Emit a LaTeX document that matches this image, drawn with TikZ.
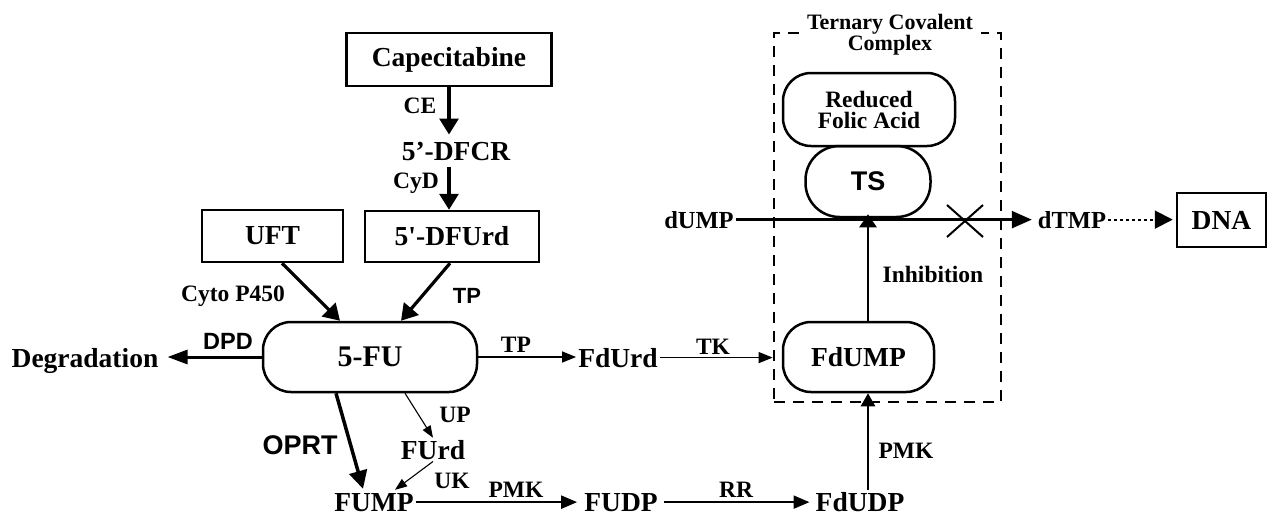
\documentclass[tikz,border=0pt]{standalone}
\usepackage{fontspec}
\setmainfont{Liberation Serif}
\newfontfamily\arialb{Liberation Sans}
\usetikzlibrary{arrows.meta,calc}
\newcommand\fsize[1]{\fontsize{#1}{#1}\selectfont}

\begin{document}
\begin{tikzpicture}[x=1pt,y=-1pt,
  bx/.style={draw, line width=2.5pt, inner sep=0pt, font=\bfseries\fsize{27.5}},
  rbx/.style={bx, rounded corners=28pt},
  txt/.style={inner sep=2pt, font=\bfseries\fsize{27.5}, anchor=base},
  lab/.style={inner sep=0pt, font=\bfseries\fsize{23.5}, anchor=base},
  slab/.style={inner sep=0pt, font=\arialb\bfseries\fsize{#1}, anchor=base},
  cplx/.style={draw, line width=2.7pt, dash pattern=on 11pt off 8pt, inner sep=0pt},
  heavy/.style={line width=3.2pt, -{Triangle[length=16pt,width=19pt]}},
  medium/.style={line width=2.2pt, -{Triangle[length=16pt,width=13pt]}},
  light/.style={line width=1.4pt, -{Triangle[length=14pt,width=11pt]}},
  thinarrow/.style={line width=1.1pt, -{Triangle[length=12pt,width=9pt]}}]
\useasboundingbox (0,0) rectangle (1270,515);

% ternary covalent complex frame and its title
\node[cplx, minimum width=227pt, minimum height=369pt] (cplx) at (887.5,217.5) {};
\node[fill=white, inner xsep=8pt, inner ysep=1pt, align=center,
      font=\bfseries\fontsize{22}{20}\selectfont] (title) at (890,35) {Ternary Covalent\\Complex};

% prodrugs and metabolites
\node[bx, minimum width=205pt, minimum height=53pt] (cap) at (449,59.5) {Capecitabine};
\node[txt, inner ysep=7pt] (dfcr) at (456,160) {5'-DFCR};
\node[bx, minimum width=141pt, minimum height=52pt] (uft) at (272.5,236) {UFT};
\node[bx, minimum width=174pt, minimum height=51pt] (dfurd) at (452,236.5) {5\textquotesingle-DFUrd};
\node[rbx, minimum width=214pt, minimum height=70pt, font=\bfseries\fsize{30}] (fu) at (370,357) {5-FU};
\node[txt] (deg) at (85,367) {Degradation};
\node[txt] (fdurd) at (618,367) {FdUrd};
\node[txt] (furd) at (433,459) {FUrd};
\node[txt] (fump) at (374,511) {FUMP};
\node[txt] (fudp) at (621,511) {FUDP};
\node[txt] (fdudp) at (860,511) {FdUDP};
\node[rbx, minimum width=151pt, minimum height=70pt] (fdump) at (858.5,357) {FdUMP};
\node[rbx, minimum width=172pt, minimum height=73pt, align=center,
      font=\bfseries\fontsize{23.5}{21}\selectfont] (rfa) at (869,109.5) {Reduced\\Folic Acid};
\node[bx, rounded corners=34pt, minimum width=125pt, minimum height=71pt,
      font=\arialb\bfseries\fsize{27}] (ts) at (868,181.5) {TS};
\node[txt, font=\bfseries\fsize{24.5}] (dump) at (699,228) {dUMP};
\node[txt, font=\bfseries\fsize{24.5}] (dtmp) at (1072,228) {dTMP};
\node[bx, minimum width=89pt, minimum height=54pt] (dna) at (1221.5,220) {DNA};
\coordinate (blk) at (965,221);

% enzyme labels
\node[lab] (lce) at (420,113) {CE};
\node[lab] (lcyd) at (416,188) {CyD};
\node[lab] (lcyto) at (233,301) {Cyto P450};
\node[slab=22] (ltpa) at (467,303) {TP};
\node[slab=23.5] (ldpd) at (228,349) {DPD};
\node[lab] (ltpb) at (516,352) {TP};
\node[slab=27] (loprt) at (300,454) {OPRT};
\node[lab] (lup) at (455,422) {UP};
\node[lab] (luk) at (452,488) {UK};
\node[lab] (lpmka) at (516,497) {PMK};
\node[lab] (lrr) at (736,497) {RR};
\node[lab] (ltk) at (713,354) {TK};
\node[lab] (lpmkb) at (906,458) {PMK};
\node[lab] (linh) at (933,282) {Inhibition};

% conversions
\draw[heavy] (cap.south) -- (cap.south |- dfcr.north);
\draw[heavy] (cap.south |- dfcr.south) -- (cap.south |- dfurd.north);
\draw[heavy] ($(uft.south)+(9.5,0)$) -- ($(fu.north)+(-30,0)$);
\draw[heavy] ($(dfurd.south)+(-2,0)$) -- ($(fu.north)+(31,0)$);
\draw[line width=3pt, -{Triangle[length=20pt,width=14pt]}, shorten >=7pt] (fu.west) -- (fu.west -| deg.east);
\draw[light] (fu.east) -- (fu.east -| fdurd.west);
\draw[light] (fdurd.east) -- (fdurd.east -| cplx.west);
\draw[line width=3.5pt, -{Triangle[length=18pt,width=18pt]}] ($(fu.south)+(-34,0)$) -- ($(fump.north)+(-11,-2)$);
\draw[thinarrow] ($(fu.south)+(35,0)$) -- (furd.north);
\draw[thinarrow] (furd.south) -- ($(fump.north)+(21,-1)$);
\draw[medium, shorten >=5pt] (fump.east) -- (fudp.west);
\draw[medium, shorten <=4pt, shorten >=4pt] (fudp.east) -- (fudp.east -| fdudp.west);
\draw[line width=2.5pt, -{Triangle[length=13pt,width=14pt]}] (ts.south |- fdudp.north) -- (ts.south |- fdump.south);
\draw[line width=2.5pt, -{Triangle[length=13pt,width=17pt]}, shorten >=-4pt] (ts.south |- fdump.north) -- (ts.south);
\draw[line width=2.5pt, -{Triangle[length=20pt,width=17pt]}, shorten >=4pt] (dump.east) -- (dtmp.west);
\draw[line width=2pt, dash pattern=on 2.5pt off 3.5pt, -{Triangle[length=18pt,width=18pt]}, shorten >=3pt]
  (dtmp.east) -- (dtmp.east -| dna.west);

% blocked step
\draw[line width=2pt] ($(blk)+(-18,-16)$) -- ($(blk)+(18,16)$);
\draw[line width=2pt] ($(blk)+(-18,16)$) -- ($(blk)+(18,-16)$);
\end{tikzpicture}
\end{document}
